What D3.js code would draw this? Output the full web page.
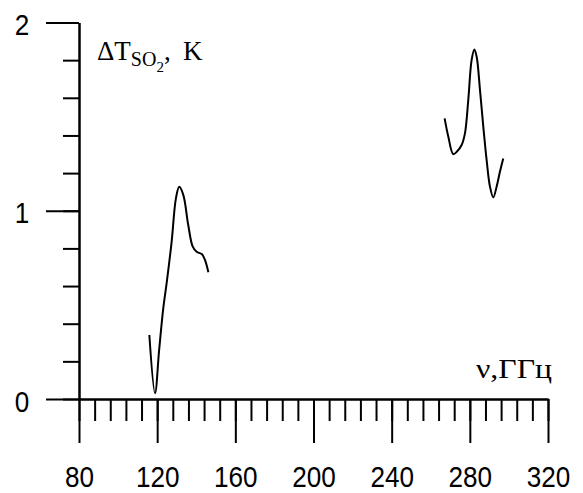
<!DOCTYPE html>
<html>
<head>
<meta charset="utf-8">
<script src="https://cdn.jsdelivr.net/npm/d3@7"></script>
<style>
  html, body { margin: 0; padding: 0; background: #fff; }
  svg { display: block; }
  .num { font-family: "Liberation Sans", Arial, sans-serif; font-size: 30px; fill: #000; }
  .serif { font-family: "Liberation Serif", "Times New Roman", serif; fill: #000; }
</style>
</head>
<body>
<script>
// SO2 brightness-temperature increment around the 119 GHz and 280 GHz bands
const freqLow = [116.0, 118.9, 121.0, 123.1, 124.9, 127.4, 129.6, 131.3, 133.4, 135.9, 138.2, 140.2, 142.8, 144.5, 146.2];
const dTLow   = [0.34, 0.03, 0.26, 0.48, 0.62, 0.835, 1.066, 1.127, 1.083, 0.924, 0.809, 0.782, 0.770, 0.738, 0.673];

const freqHigh = [267.1, 269.0, 271.5, 273.3, 275.8, 277.5, 279.2, 280.9, 282.3, 283.5, 285.2, 286.9, 288.6, 290.3, 292.0, 293.7, 295.4, 297.1];
const dTHigh   = [1.491, 1.393, 1.301, 1.313, 1.349, 1.411, 1.588, 1.800, 1.857, 1.818, 1.641, 1.446, 1.269, 1.128, 1.071, 1.128, 1.207, 1.278];

const xMajor = [80, 120, 160, 200, 240, 280, 320];
const xMinor = d3.range(80, 321, 8);
const yMajor = [0, 1, 2];
const yMinor = d3.range(0, 2.001, 0.2);

const W = 583, H = 493;
const svg = d3.select("body").append("svg").attr("width", W).attr("height", H);

const x = d3.scaleLinear().domain([80, 320]).range([79, 548]);
const y = d3.scaleLinear().domain([0, 2]).range([399, 22.5]);

function styleAxis(g) {
  g.attr("font-size", null).attr("font-family", null);
  g.selectAll("path, line").attr("stroke", "#000").attr("stroke-width", 2);
}

// x axis: short minor ticks, long major ticks pointing down
svg.append("g").attr("transform", `translate(0,${y(0)})`)
  .call(d3.axisBottom(x).tickValues(xMinor).tickSize(22).tickSizeOuter(0).tickFormat(""))
  .call(styleAxis);
const gx = svg.append("g").attr("transform", `translate(0,${y(0)})`)
  .call(d3.axisBottom(x).tickValues(xMajor).tickSize(44).tickSizeOuter(0).tickFormat(d3.format("d")))
  .call(styleAxis);
gx.selectAll("text").attr("class", "num")
  .attr("y", 88).attr("dy", 0)
  .attr("transform", "scale(0.87,1)");

// y axis: ticks pointing left
svg.append("g").attr("transform", `translate(${x(80)},0)`)
  .call(d3.axisLeft(y).tickValues(yMinor).tickSize(16).tickSizeOuter(0).tickFormat(""))
  .call(styleAxis);
const gy = svg.append("g").attr("transform", `translate(${x(80)},0)`)
  .call(d3.axisLeft(y).tickValues(yMajor).tickSize(33).tickSizeOuter(0).tickFormat(d3.format("d")))
  .call(styleAxis);
gy.selectAll("text").attr("class", "num")
  .attr("x", 0).attr("dy", 12).attr("text-anchor", "middle")
  .attr("transform", `translate(${22 - x(80)},0) scale(0.87,1)`);

// spectral curves
const line = d3.line().x(d => x(d[0])).y(d => y(d[1])).curve(d3.curveCatmullRom.alpha(0.5));
[[freqLow, dTLow], [freqHigh, dTHigh]].forEach(([f, v]) => {
  svg.append("path")
    .datum(f.map((fi, i) => [fi, v[i]]))
    .attr("d", line)
    .attr("fill", "none")
    .attr("stroke", "#000")
    .attr("stroke-width", 2);
});

// axis titles
const yt = svg.append("text").attr("class", "serif").attr("x", 97).attr("y", 60)
  .attr("font-size", 27);
yt.append("tspan").text("ΔT");
yt.append("tspan").attr("font-size", 20).attr("dy", 6).text("SO");
yt.append("tspan").attr("font-size", 15).attr("dy", 6).text("2");
yt.append("tspan").attr("dy", -12).text(",");
yt.append("tspan").attr("x", 183).text("K");

svg.append("text").attr("class", "serif").attr("x", 476).attr("y", 378)
  .attr("font-size", 27)
  .attr("textLength", 76).attr("lengthAdjust", "spacingAndGlyphs")
  .text("ν,ГГц");
</script>
</body>
</html>
